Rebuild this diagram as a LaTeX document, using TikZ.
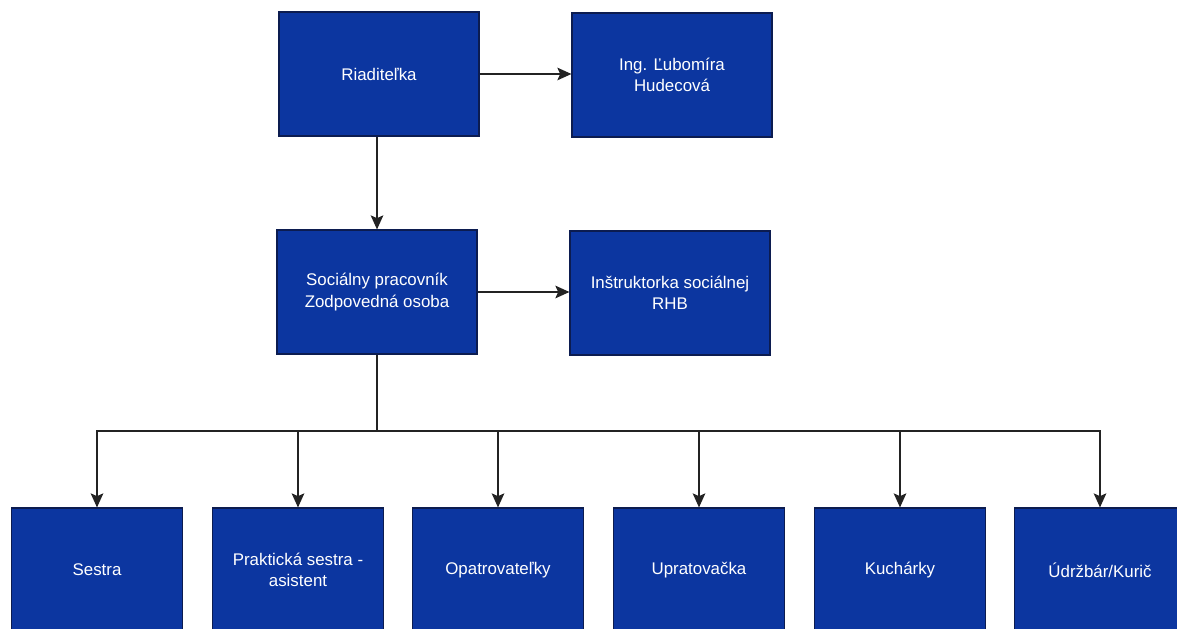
\documentclass[tikz,border=0pt]{standalone}
\usepackage{fontspec}
\setmainfont{Liberation Sans}
\usetikzlibrary{
    arrows.meta,
    positioning
}
\definecolor{boxblue}{RGB}{12,54,160}
\definecolor{boxline}{RGB}{12,28,80}
\definecolor{linkgray}{RGB}{35,35,35}

\begin{document}
\begin{tikzpicture}[x=0.025cm, y=-0.025cm,
    unit/.style={draw=boxline, line width=0.8pt, fill=boxblue, text=white,
                 font=\fontsize{12}{15}\selectfont, align=center,
                 inner sep=0pt, minimum width=5cm, minimum height=3.1cm},
    staff/.style={unit, minimum width=4.275cm},
    link/.style={draw=linkgray, line width=1pt, -{Stealth[length=10pt, width=9pt, inset=2pt]}}
]
    \useasboundingbox (0,0) rectangle (1177,629);

    \node[unit] (head) at (379,74) {Riaditeľka};
    \node[unit] (name) at (672,75) {Ing. Ľubomíra\\Hudecová};
    \node[unit] (social) at (377,292) {Sociálny pracovník\\Zodpovedná osoba};
    \node[unit] (rhb) at (670,293) {Inštruktorka sociálnej\\RHB};

    \node[staff] (nurse) at (97,570) {Sestra};
    \node[staff] (assistant) at (298,570) {Praktická sestra -\\asistent};
    \node[staff] (carers) at (498,570) {Opatrovateľky};
    \node[staff] (cleaner) at (699,570) {Upratovačka};
    \node[staff] (cooks) at (900,570) {Kuchárky};
    \node[staff] (janitor) at (1100,570) {Údržbár/Kurič};

    \coordinate (bus) at (377,431);

    \draw[link] (head.east) -- (head.east -| name.west);
    \draw[link] (head.south -| social.north) -- (social);
    \draw[link] (social.east) -- (social.east -| rhb.west);
    \draw[draw=linkgray, line width=1pt] (social) -- (bus);
    \draw[link] (bus) -| (nurse);
    \draw[link] (bus) -| (assistant);
    \draw[link] (bus) -| (carers);
    \draw[link] (bus) -| (cleaner);
    \draw[link] (bus) -| (cooks);
    \draw[link] (bus) -| (janitor);
\end{tikzpicture}
\end{document}
